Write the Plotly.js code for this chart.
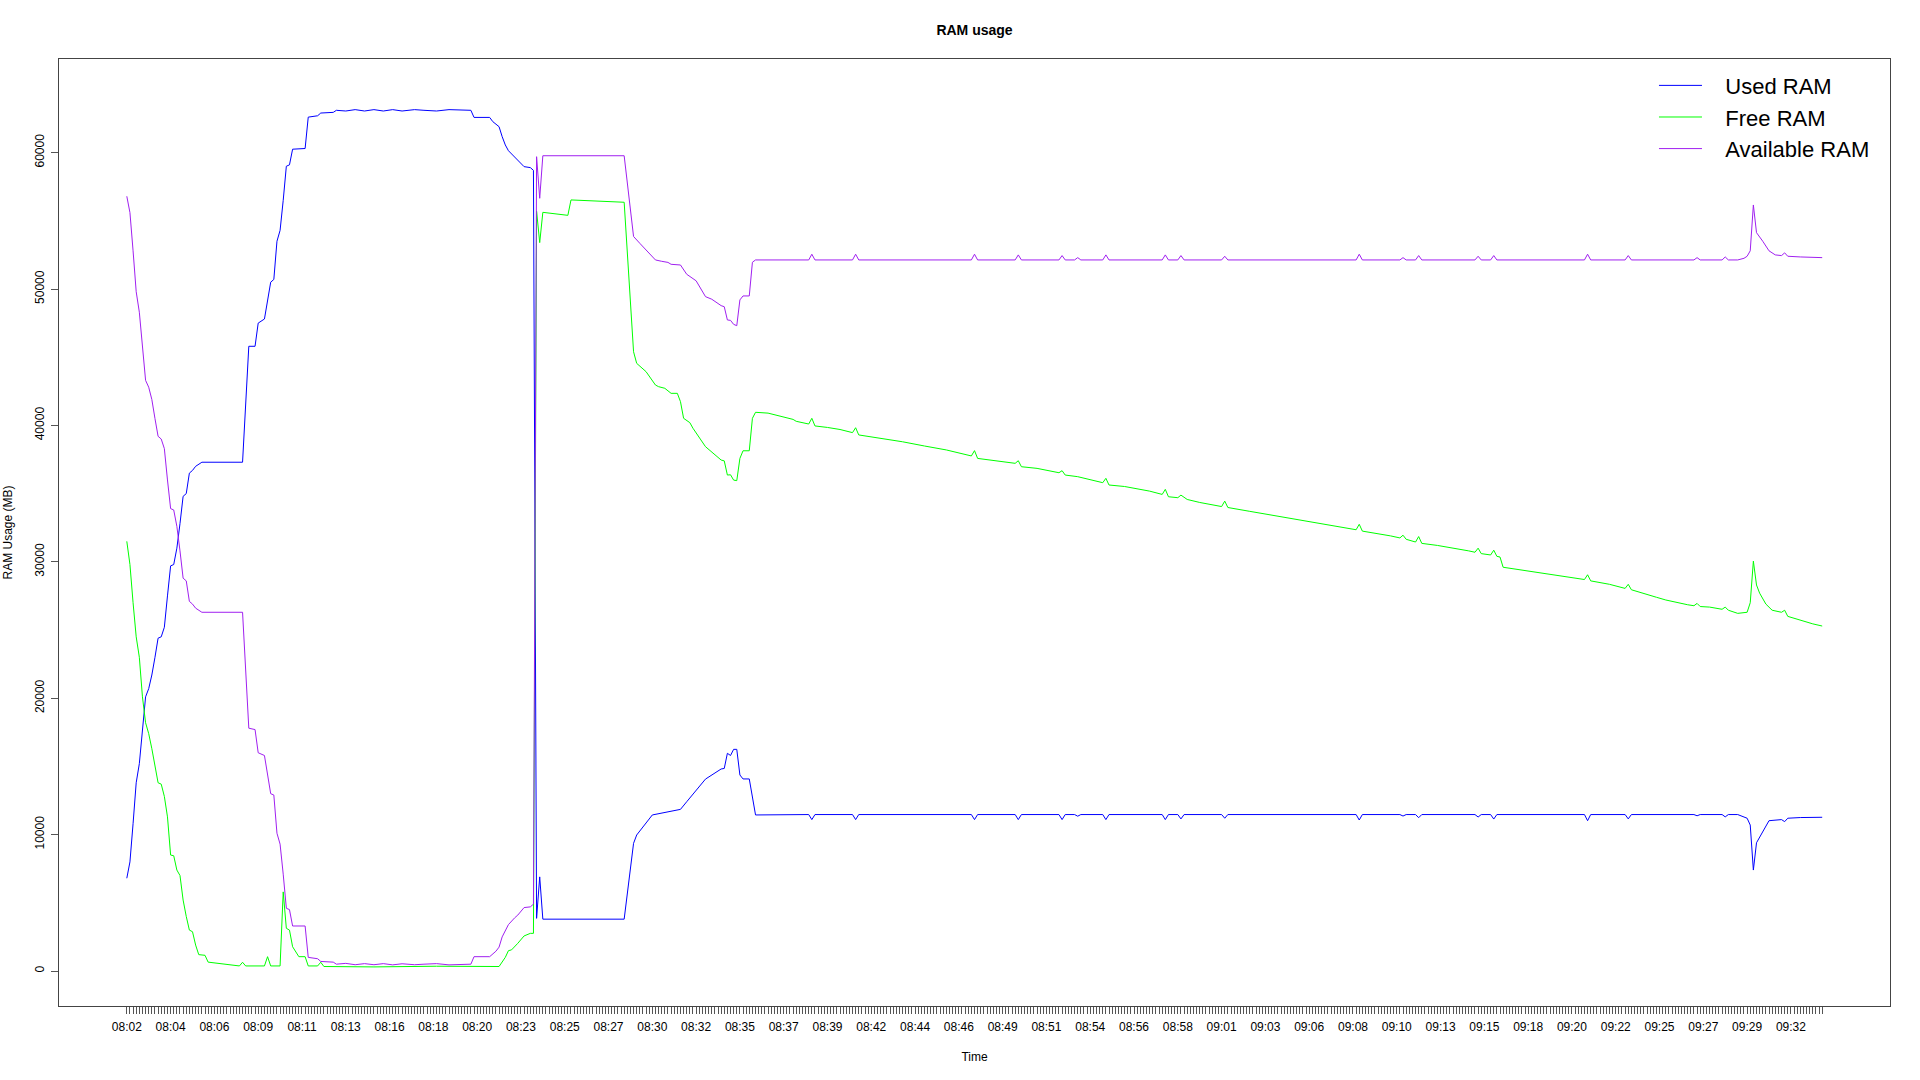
<!DOCTYPE html>
<html>
<head>
<meta charset="utf-8">
<script src="https://cdn.plot.ly/plotly-3.0.1.min.js"></script>
<style>
html,body{margin:0;padding:0;background:#ffffff;}
#chart{width:1920px;height:1080px;}
</style>
</head>
<body>
<div id="chart"></div>
<script>
// ---- data (sample index -> MB) ----
const sampleCount = 543;
const labelStep = 14;
const timeLabels = ["08:02","08:04","08:06","08:09","08:11","08:13","08:16","08:18","08:20","08:23",
  "08:25","08:27","08:30","08:32","08:35","08:37","08:39","08:42","08:44","08:46",
  "08:49","08:51","08:54","08:56","08:58","09:01","09:03","09:06","09:08","09:10",
  "09:13","09:15","09:18","09:20","09:22","09:25","09:27","09:29","09:32"];
const seriesNames = ["Used RAM", "Free RAM", "Available RAM"];

const usedIdx = [1,2,3,4,5,6,7,8,9,10,11,12,13,14,15,16,17,18,19,20,21,22,23,25,38,40,42,43,45,47,48,49,50,51,52,53,54,58,59,62,63,67,68,71,74,77,80,83,86,89,93,96,100,104,108,111,112,117,118,120,121,122,123,125,126,128,130,131,132,133,134,160,163,164,169,173,178,180,182,186,191,192,193,194,195,196,197,198,200,202,
  219,220,221,233,234,235,271,272,273,285,286,287,299,300,301,304,305,306,313,314,315,332,333,334,337,338,339,351,352,353,394,395,396,408,409,410,413,414,415,432,433,434,437,438,439,467,468,469,480,481,482,502,503,504,511,512,513,516,519,520,521,522,526,529,530,531,532,536,543];
const usedMB = [6800,8000,10800,13800,15200,17900,20100,20700,21700,23000,24400,24500,25200,27500,29700,29800,31000,32800,34800,35000,36500,36700,37000,37300,37300,45800,45800,47500,47800,50500,50700,53500,54300,56500,59000,59100,60250,60300,62600,62700,62900,62950,63100,63050,63150,63050,63150,63050,63150,63050,63150,63100,63050,63150,63100,63100,62580,62580,62270,61900,61170,60560,60140,59700,59460,58970,58900,58700,3860,6900,3800,3800,9360,9970,11440,11630,11850,12410,12950,14070,14810,14850,15960,15800,16250,16250,14370,14080,14080,11440,
  11470,11100,11470,11470,11100,11470,11470,11100,11470,11470,11100,11470,11470,11100,11470,11470,11350,11470,11470,11100,11470,11470,11100,11470,11470,11150,11470,11470,11200,11470,11470,11070,11470,11470,11360,11470,11470,11240,11470,11470,11290,11470,11470,11140,11470,11470,11020,11470,11470,11150,11470,11470,11380,11470,11470,11300,11470,11470,11200,10700,7400,9400,11020,11050,11100,10950,11200,11250,11270];

const freeIdx = [1,2,3,4,5,6,7,8,9,10,11,12,13,14,15,16,17,18,19,20,21,22,23,24,26,27,37,38,39,45,46,47,50,51,52,53,54,56,58,59,62,63,64,80,100,120,122,123,124,126,127,128,130,131,132,133,134,142,143,160,163,164,167,170,171,173,175,177,178,179,181,182,186,188,191,192,193,194,195,196,197,198,200,201,202,206,210,214,215,219,220,221,225,229,233,234,235,242,249,256,263,271,272,273,285,286,287,292,299,300,301,305,313,314,315,320,328,332,333,334,337,338,340,344,351,352,353,360,370,380,390,394,395,396,405,408,409,410,413,414,415,420,430,432,433,434,437,438,439,440,441,450,460,467,468,469,475,480,481,482,490,493,500,502,503,504,507,511,512,513,516,519,520,521,522,523,525,527,530,531,532,536,540,543];
const freeMB = [31500,29800,27000,24500,23000,20100,18200,17400,16300,15000,13800,13700,12800,11300,8500,8450,7400,7000,5200,4000,3000,2880,1900,1200,1150,650,370,640,370,370,1050,370,370,5800,3130,3000,1780,1050,1050,370,370,640,330,300,350,330,1000,1490,1550,2030,2270,2570,2760,2760,55700,53400,55620,55400,56530,56360,45400,44550,43940,42960,42840,42720,42350,42350,41740,40520,40200,39790,38440,38070,37460,37400,36360,36380,35990,35950,37580,38140,38140,40520,40960,40900,40690,40440,40300,40100,40520,39960,39850,39700,39470,39830,39300,39050,38800,38490,38200,37760,38150,37580,37220,37410,36970,36850,36530,36680,36360,36240,35800,36120,35630,35520,35180,34940,35310,34770,34700,34890,34570,34350,34050,34450,33980,33700,33300,32900,32500,32350,32750,32250,31900,31750,31950,31650,31450,31850,31350,31200,30800,30700,31000,30600,30500,30850,30400,30350,29600,29300,28950,28700,29050,28600,28350,28050,28350,27950,27400,27200,26850,26780,26950,26720,26680,26520,26680,26450,26220,26300,27000,30050,28300,27700,26900,26450,26300,26450,26000,25700,25450,25290];

const availIdx = [1,2,3,4,5,6,7,8,9,10,11,12,13,14,15,16,17,18,19,20,21,22,23,25,38,40,42,43,45,47,48,49,50,51,52,53,54,58,59,62,63,67,68,71,74,77,80,83,86,89,93,96,100,104,108,111,112,117,119,120,121,122,123,125,126,128,130,131,132,133,134,160,163,165,168,170,172,174,175,178,180,182,183,186,188,191,192,193,194,195,196,197,198,200,201,202,
  219,220,221,233,234,235,271,272,273,285,286,287,299,300,301,304,305,306,313,314,315,332,333,334,337,338,339,351,352,353,394,395,396,408,409,410,413,414,415,432,433,434,437,438,439,467,468,469,480,481,482,502,503,504,511,512,513,516,518,519,520,521,522,524,526,528,530,531,532,536,543];
const availMB = [56800,55600,52800,49800,48300,45500,43300,42800,41900,40500,39200,39000,38300,36000,33900,33800,32600,30800,28800,28600,27100,26900,26600,26300,26300,17800,17700,16000,15800,13000,12900,10100,9300,7100,4600,4500,3300,3300,1000,900,700,650,500,560,460,540,460,540,450,530,460,500,540,450,500,500,1050,1050,1450,1750,2500,3000,3400,3900,4100,4650,4700,4900,59700,56650,59770,59770,53850,53350,52640,52130,52030,51950,51810,51760,51080,50730,50600,49440,49250,48780,48700,47730,47700,47410,47310,49200,49490,49490,51960,52130,
  52130,52550,52130,52130,52550,52130,52130,52550,52130,52130,52500,52130,52130,52450,52130,52130,52300,52130,52130,52500,52130,52130,52500,52130,52130,52450,52130,52130,52400,52130,52130,52550,52130,52130,52300,52130,52130,52450,52130,52130,52400,52130,52130,52450,52130,52130,52550,52130,52130,52450,52130,52130,52300,52130,52130,52350,52130,52130,52250,52400,52800,56160,54130,53500,52800,52500,52450,52650,52400,52350,52300];

// ---- axis ticks: one tick per sample, a label every labelStep samples ----
const tickVals = [];
const tickText = [];
for (let i = 1; i <= sampleCount; i++) {
  tickVals.push(i);
  const k = (i - 1) / labelStep;
  tickText.push(Number.isInteger(k) && k < timeLabels.length ? timeLabels[k] : "");
}
const yTicks = [0, 10000, 20000, 30000, 40000, 50000, 60000];

const FONT = "Liberation Sans, Arial, Helvetica, sans-serif";
const pad = 0.04 * (sampleCount - 1);
const gap = "\u00a0\u00a0\u00a0";

const traces = [
  {x: usedIdx, y: usedMB, name: gap + seriesNames[0], type: "scatter", mode: "lines",
   line: {color: "#0000FF", width: 1}},
  {x: freeIdx, y: freeMB, name: gap + seriesNames[1], type: "scatter", mode: "lines",
   line: {color: "#00FF00", width: 1}},
  {x: availIdx, y: availMB, name: gap + seriesNames[2], type: "scatter", mode: "lines",
   line: {color: "#A020F0", width: 1}}
];

const layout = {
  width: 1920, height: 1080,
  paper_bgcolor: "#ffffff", plot_bgcolor: "#ffffff",
  margin: {l: 59, r: 30, t: 59, b: 74},
  font: {family: FONT, color: "#000000", size: 12},
  title: {text: "<b>RAM usage</b>", x: 0.5, xref: "paper", y: 1 - 30/1080, yref: "container",
          yanchor: "middle", font: {size: 14, family: FONT, color: "#000"}},
  showlegend: true,
  legend: {x: 0.8711, y: 0.9941, xanchor: "left", yanchor: "top",
           font: {size: 22, family: FONT, color: "#000"}, bgcolor: "rgba(0,0,0,0)",
           borderwidth: 0, itemwidth: 43, tracegroupgap: 0},
  xaxis: {
    range: [1 - pad, sampleCount + pad], tickmode: "array", tickvals: tickVals, ticktext: tickText,
    ticks: "outside", ticklen: 7, tickwidth: 1, tickcolor: "#555555", tickangle: 0,
    ticklabelstandoff: 3,
    tickfont: {size: 12, family: FONT, color: "#000"},
    showline: true, linecolor: "#444444", linewidth: 1, mirror: true,
    showgrid: false, zeroline: false, automargin: false,
    title: {text: "Time", font: {size: 12, family: FONT, color: "#000"}, standoff: 19}
  },
  yaxis: {
    range: [-2566, 66862], tickmode: "array", tickvals: yTicks, ticktext: yTicks.map(String),
    ticks: "outside", ticklen: 7, tickwidth: 1, tickcolor: "#555555", tickangle: -90,
    ticklabelstandoff: 2,
    tickfont: {size: 12, family: FONT, color: "#000"},
    showline: true, linecolor: "#444444", linewidth: 1, mirror: true,
    showgrid: false, zeroline: false, automargin: false,
    title: {text: "RAM Usage (MB)", font: {size: 12, family: FONT, color: "#000"}, standoff: 18}
  }
};

Plotly.newPlot("chart", traces, layout, {displayModeBar: false, staticPlot: true});
</script>
</body>
</html>
